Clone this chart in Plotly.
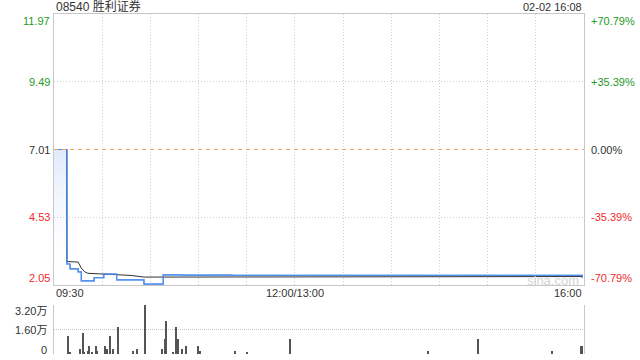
import plotly.graph_objects as go

# ---------------- data ----------------
title_text = "08540 胜利证券"
date_text = "02-02 16:08"
prev_close = 7.01

price_ticks = [11.97, 9.49, 7.01, 4.53, 2.05]
price_labels = ["11.97", "9.49", "7.01", "4.53", "2.05"]
pct_labels = ["+70.79%", "+35.39%", "0.00%", "-35.39%", "-70.79%"]

time_ticks = [0, 150, 330]
time_labels = ["09:30", "12:00/13:00", "16:00"]

# minutes since 09:30 (trading time)
price_t = [0, 8, 10, 15, 17, 25, 31, 39, 56, 68, 80, 111, 328, 329]
price_v = [7.01, 2.82, 2.64, 2.53, 2.20, 2.32, 2.45, 2.24, 2.08, 2.42, 2.41, 2.40, 2.40, 2.31]

avg_t = [0, 7.9, 8, 15, 17, 19, 21, 31, 48, 56, 68, 111, 329]
avg_v = [7.01, 7.01, 2.91, 2.89, 2.67, 2.54, 2.48, 2.45, 2.40, 2.34, 2.34, 2.35, 2.36]

vol_t = [9, 10, 16, 18, 19, 21, 22, 24, 26, 27, 32, 33, 35, 37, 40, 49, 52, 57,
         67, 69, 70, 74, 76, 77, 80, 82, 90, 91, 113, 120, 147, 233, 264, 310, 328, 329]
vol_v = [12000, 1300, 3400, 14000, 1300, 1700, 5500, 1300, 5500, 1700, 5500, 3400,
         12000, 3400, 17800, 1700, 3400, 31800, 3400, 9900, 21500, 1300, 17600, 9900,
         3400, 5500, 5500, 1700, 1700, 1000, 9900, 1700, 9900, 1700, 4900, 5500]

vol_ticks = [32000, 16000, 0]
vol_labels = ["3.20万", "1.60万", "0"]

# ---------------- style ----------------
FONT = "Liberation Sans, Arial, Noto Sans CJK SC, sans-serif"
GREEN = "#1f9a1f"
RED = "#f02b2b"
DARK = "#333333"
label_colors = [GREEN, GREEN, DARK, RED, RED]
BORDER = "#c8c8c8"
GRID = "#cfcfcf"
BLUE = "#4f8ef0"

fig = go.Figure()

fig.add_trace(go.Scatter(
    x=price_t, y=price_v, mode="lines", line=dict(color=BLUE, width=1.2, shape="hv"),
    fill="tozeroy",
    fillgradient=dict(type="vertical", start=2.05, stop=prev_close,
                      colorscale=[[0, "rgba(255,255,255,0)"], [1, "rgba(80,140,240,0.18)"]]),
    xaxis="x", yaxis="y", hoverinfo="skip", showlegend=False))

fig.add_trace(go.Scatter(
    x=avg_t, y=avg_v, mode="lines", line=dict(color="#333333", width=1),
    xaxis="x", yaxis="y", hoverinfo="skip", showlegend=False))

# redraw price on top of the average line
fig.add_trace(go.Scatter(
    x=price_t, y=price_v, mode="lines", line=dict(color=BLUE, width=1.2, shape="hv"),
    xaxis="x", yaxis="y", hoverinfo="skip", showlegend=False))

fig.add_trace(go.Bar(
    x=vol_t, y=vol_v, width=0.7, marker=dict(color="#555555", line=dict(width=0)),
    xaxis="x2", yaxis="y2", hoverinfo="skip", showlegend=False))

grid_vals = [v for v in price_ticks if v != prev_close]

fig.update_layout(
    width=640, height=360,
    margin=dict(l=54, r=56, t=14, b=6),
    paper_bgcolor="white", plot_bgcolor="white",
    font=dict(family=FONT, size=11, color=DARK),
    bargap=0,
    xaxis=dict(domain=[0, 1], range=[0, 330], tickvals=list(range(0, 331, 30)),
               showticklabels=False, ticks="", showgrid=True, gridcolor=GRID,
               griddash="1px,2px", gridwidth=1, zeroline=False,
               showline=True, mirror=True, linecolor=BORDER, linewidth=1, anchor="y"),
    yaxis=dict(domain=[0.2029, 1], range=[2.05, 11.97], tickvals=grid_vals,
               showticklabels=False, ticks="", showgrid=True, gridcolor=GRID,
               griddash="1px,2px", zeroline=False,
               showline=True, mirror=True, linecolor=BORDER, linewidth=1, anchor="x"),
    xaxis2=dict(domain=[0, 1], range=[0, 330], showticklabels=False, ticks="",
                showgrid=False, zeroline=False, showline=False, anchor="y2"),
    yaxis2=dict(domain=[0, 0.1441], range=[0, 32000], tickvals=vol_ticks,
                showticklabels=False, ticks="", showgrid=True, gridcolor="#c4c4c4",
                griddash="1px,1px", zeroline=False,
                showline=True, mirror=True, linecolor=BORDER, linewidth=1, anchor="x2"),
)

fig.add_shape(type="line", xref="paper", x0=0, x1=1, yref="y", y0=prev_close, y1=prev_close,
              line=dict(color="#f0a060", width=1, dash="4px,4px"), layer="above")

ann = []
# title / date
ann.append(dict(text=title_text, xref="paper", yref="paper", x=0, y=1.0206,
                xanchor="left", yanchor="middle", showarrow=False,
                font=dict(size=12, color=DARK)))
ann.append(dict(text=date_text, xref="paper", yref="paper", x=1, y=1.0206,
                xanchor="right", yanchor="middle", showarrow=False,
                font=dict(size=11, color=DARK)))
# price / percentage labels
n = len(price_ticks)
for i, (v, lab, pct, col) in enumerate(zip(price_ticks, price_labels, pct_labels, label_colors)):
    ys = -6.5 if i == 0 else (7 if i == n - 1 else 0)
    ann.append(dict(text=lab, xref="paper", yref="y", x=0, y=v, xanchor="right",
                    yanchor="middle", xshift=-2, yshift=ys, showarrow=False,
                    font=dict(size=11, color=col)))
    ann.append(dict(text=pct, xref="paper", yref="y", x=1, y=v, xanchor="left",
                    yanchor="middle", xshift=5, yshift=ys, showarrow=False,
                    font=dict(size=11, color=col)))
# time labels
anchors = ["left", "center", "right"]
for t, lab, a in zip(time_ticks, time_labels, anchors):
    ann.append(dict(text=lab, xref="x", yref="paper", x=t, y=0.1794, xanchor=a,
                    yanchor="middle", showarrow=False, font=dict(size=11, color=DARK)))
# volume labels
for i, (v, lab) in enumerate(zip(vol_ticks, vol_labels)):
    ys = -6 if i == 0 else (4 if i == len(vol_ticks) - 1 else 0)
    ann.append(dict(text=lab, xref="paper", yref="y2", x=0, y=v, xanchor="right",
                    yanchor="middle", xshift=-5, yshift=ys, showarrow=False,
                    font=dict(size=11, color=DARK)))
# watermark
ann.append(dict(text="sina.com", xref="paper", yref="paper", x=0.9415, y=0.2176,
                xanchor="center", yanchor="middle", showarrow=False,
                font=dict(size=13, color="#d4d4d4")))

fig.update_layout(annotations=ann)

fig.write_html("out.html", config={"displayModeBar": False},
               post_script="document.body.style.margin='0';document.body.style.overflow='hidden';")
